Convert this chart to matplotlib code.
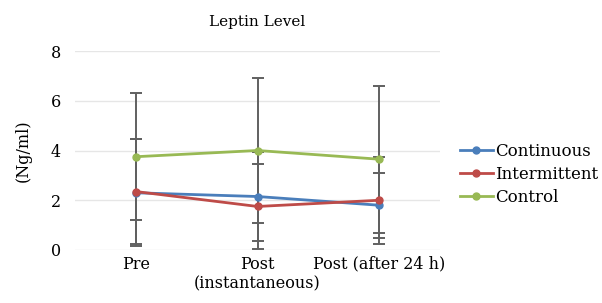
import matplotlib
matplotlib.use("Agg")
import matplotlib.pyplot as plt
import numpy as np

categories = ["Pre", "Post\n(instantaneous)", "Post (after 24 h)"]
continuous = [2.3, 2.15, 1.8]
continuous_err = [2.15, 1.8, 1.3]
intermittent = [2.35, 1.75, 2.0]
intermittent_err = [2.1, 1.7, 1.75]
control = [3.75, 4.0, 3.65]
control_err = [2.55, 2.9, 2.95]
yticks = [0, 2, 4, 6, 8]

plt.rcParams['font.family'] = ['DejaVu Serif']

fig = plt.figure(figsize=(6.02, 3.03), dpi=100)
ax = fig.add_axes([75/602, 1-250/303, 365/602, 199/303])

x = np.arange(len(categories))
series = [
    ("Continuous", continuous, continuous_err, "#4a7ebb"),
    ("Intermittent", intermittent, intermittent_err, "#be4b48"),
    ("Control", control, control_err, "#98b954"),
]
for name, vals, errs, col in series:
    ax.errorbar(x, vals, yerr=errs, fmt='none', ecolor='#606060', elinewidth=1.4,
                capsize=4, capthick=1.4, zorder=2)
for name, vals, errs, col in series:
    ax.plot(x, vals, color=col, lw=2, marker='o', ms=5, label=name, zorder=3)

ax.set_xlim(-0.5, 2.5)
ax.set_ylim(0, 8)
ax.set_yticks(yticks)
ax.set_xticks(x)
ax.set_xticklabels(categories, fontsize=11.5, linespacing=1.25)
ax.tick_params(axis='both', length=0, labelsize=11.5)
ax.tick_params(axis='x', pad=4)
ax.tick_params(axis='y', pad=10)
for s in ax.spines.values():
    s.set_visible(False)
ax.grid(axis='y', color='#e6e6e6', lw=1)
ax.set_axisbelow(True)
ax.set_title("Leptin Level", fontsize=11, pad=18)
ax.set_ylabel("(Ng/ml)", fontsize=11.5, labelpad=14)

leg = ax.legend(loc='center left', bbox_to_anchor=(1.036, 0.38), frameon=False,
                fontsize=12, handlelength=2.0, handletextpad=0.1, labelspacing=0.35,
                borderaxespad=0)

fig.savefig("out.png", dpi=100)
